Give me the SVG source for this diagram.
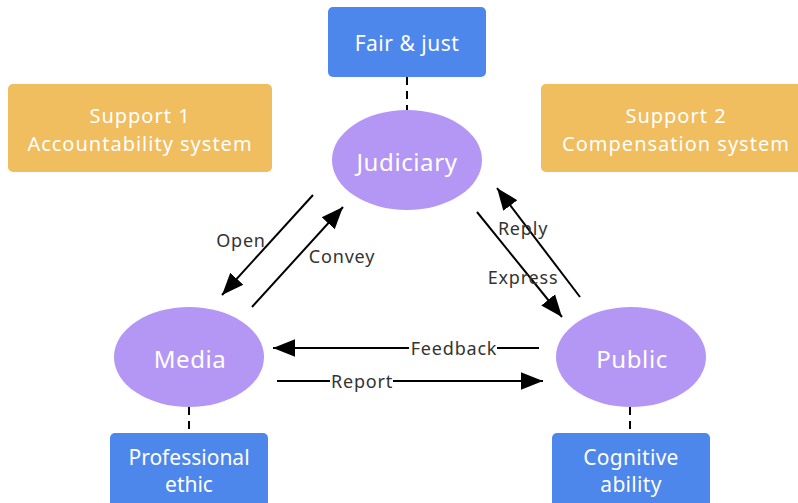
<svg xmlns="http://www.w3.org/2000/svg" width="798" height="503" viewBox="0 0 798 503">
<defs>
<style>
.box{fill:#4E87EB}
.sup{fill:#F0BD5F}
.ell{fill:#B497F5}
.wt{fill:#fff;font-family:"Noto Sans","Open Sans",sans-serif;text-anchor:middle;dominant-baseline:central}
.st{font-size:20px;letter-spacing:1px}
.lbl{fill:#333;font-family:"Noto Sans","Open Sans",sans-serif;font-size:18px;letter-spacing:0.8px;text-anchor:middle;dominant-baseline:central}
.ln{stroke:#000;stroke-width:2;fill:none}
.dash{stroke:#000;stroke-width:2;stroke-dasharray:8 6;fill:none}
</style>
<marker id="ah2" viewBox="0 0 10 10" refX="10" refY="5" markerWidth="22" markerHeight="22" markerUnits="userSpaceOnUse" orient="auto"><path d="M0,1 L10,5 L0,9 z" fill="#000"/></marker>
</defs>
<g id="connectors">
<line class="dash" x1="407" y1="77" x2="407" y2="110"/>
<line class="dash" x1="189" y1="407" x2="189" y2="433"/>
<line class="dash" x1="630" y1="407" x2="630" y2="433"/>
<line class="ln" x1="313" y1="195" x2="222" y2="295" marker-end="url(#ah2)"/>
<line class="ln" x1="252" y1="307" x2="343" y2="207" marker-end="url(#ah2)"/>
<line class="ln" x1="477" y1="212" x2="562" y2="317" marker-end="url(#ah2)"/>
<line class="ln" x1="580" y1="297" x2="497" y2="188" marker-end="url(#ah2)"/>
<line class="ln" x1="539" y1="348" x2="273" y2="348" marker-end="url(#ah2)"/>
<line class="ln" x1="277" y1="381" x2="543" y2="381" marker-end="url(#ah2)"/>
<rect x="409" y="338" width="88" height="20" fill="#fff"/>
<rect x="330" y="371" width="63" height="20" fill="#fff"/>
<text class="lbl" x="241" y="240">Open</text>
<text class="lbl" x="342" y="256">Convey</text>
<text class="lbl" x="523" y="228">Reply</text>
<text class="lbl" x="523" y="277">Express</text>
<text class="lbl" x="454" y="348">Feedback</text>
<text class="lbl" x="362" y="381">Report</text>
</g>
<g id="fair"><rect class="box" x="328" y="7" width="158" height="70" rx="5"/><text class="wt" x="407" y="43" font-size="21" letter-spacing="0.5">Fair &amp; just</text></g>
<g id="support1"><rect class="sup" x="8" y="84" width="264" height="88" rx="5"/><text class="wt st" x="140" y="115.5">Support 1</text><text class="wt st" x="140" y="143">Accountability system</text></g>
<g id="support2"><rect class="sup" x="541" y="84" width="265" height="88" rx="5"/><text class="wt st" x="676" y="115.5">Support 2</text><text class="wt st" x="676" y="143">Compensation system</text></g>
<g id="judiciary"><ellipse class="ell" cx="407" cy="160" rx="75" ry="50"/><text class="wt" x="407" y="161" font-size="24" letter-spacing="0.6">Judiciary</text></g>
<g id="media"><ellipse class="ell" cx="189" cy="357" rx="75" ry="50"/><text class="wt" x="190" y="358" font-size="24" letter-spacing="0.6">Media</text></g>
<g id="public"><ellipse class="ell" cx="631" cy="357" rx="75" ry="50"/><text class="wt" x="632" y="358" font-size="24" letter-spacing="0.6">Public</text></g>
<g id="professional"><rect class="box" x="110" y="433" width="158" height="80" rx="5"/><text class="wt" x="189" y="457" font-size="21">Professional</text><text class="wt" x="189" y="484" font-size="21">ethic</text></g>
<g id="cognitive"><rect class="box" x="552" y="433" width="158" height="80" rx="5"/><text class="wt" x="631" y="457" font-size="21" letter-spacing="0.3">Cognitive</text><text class="wt" x="631" y="484" font-size="21" letter-spacing="0.3">ability</text></g>
</svg>
